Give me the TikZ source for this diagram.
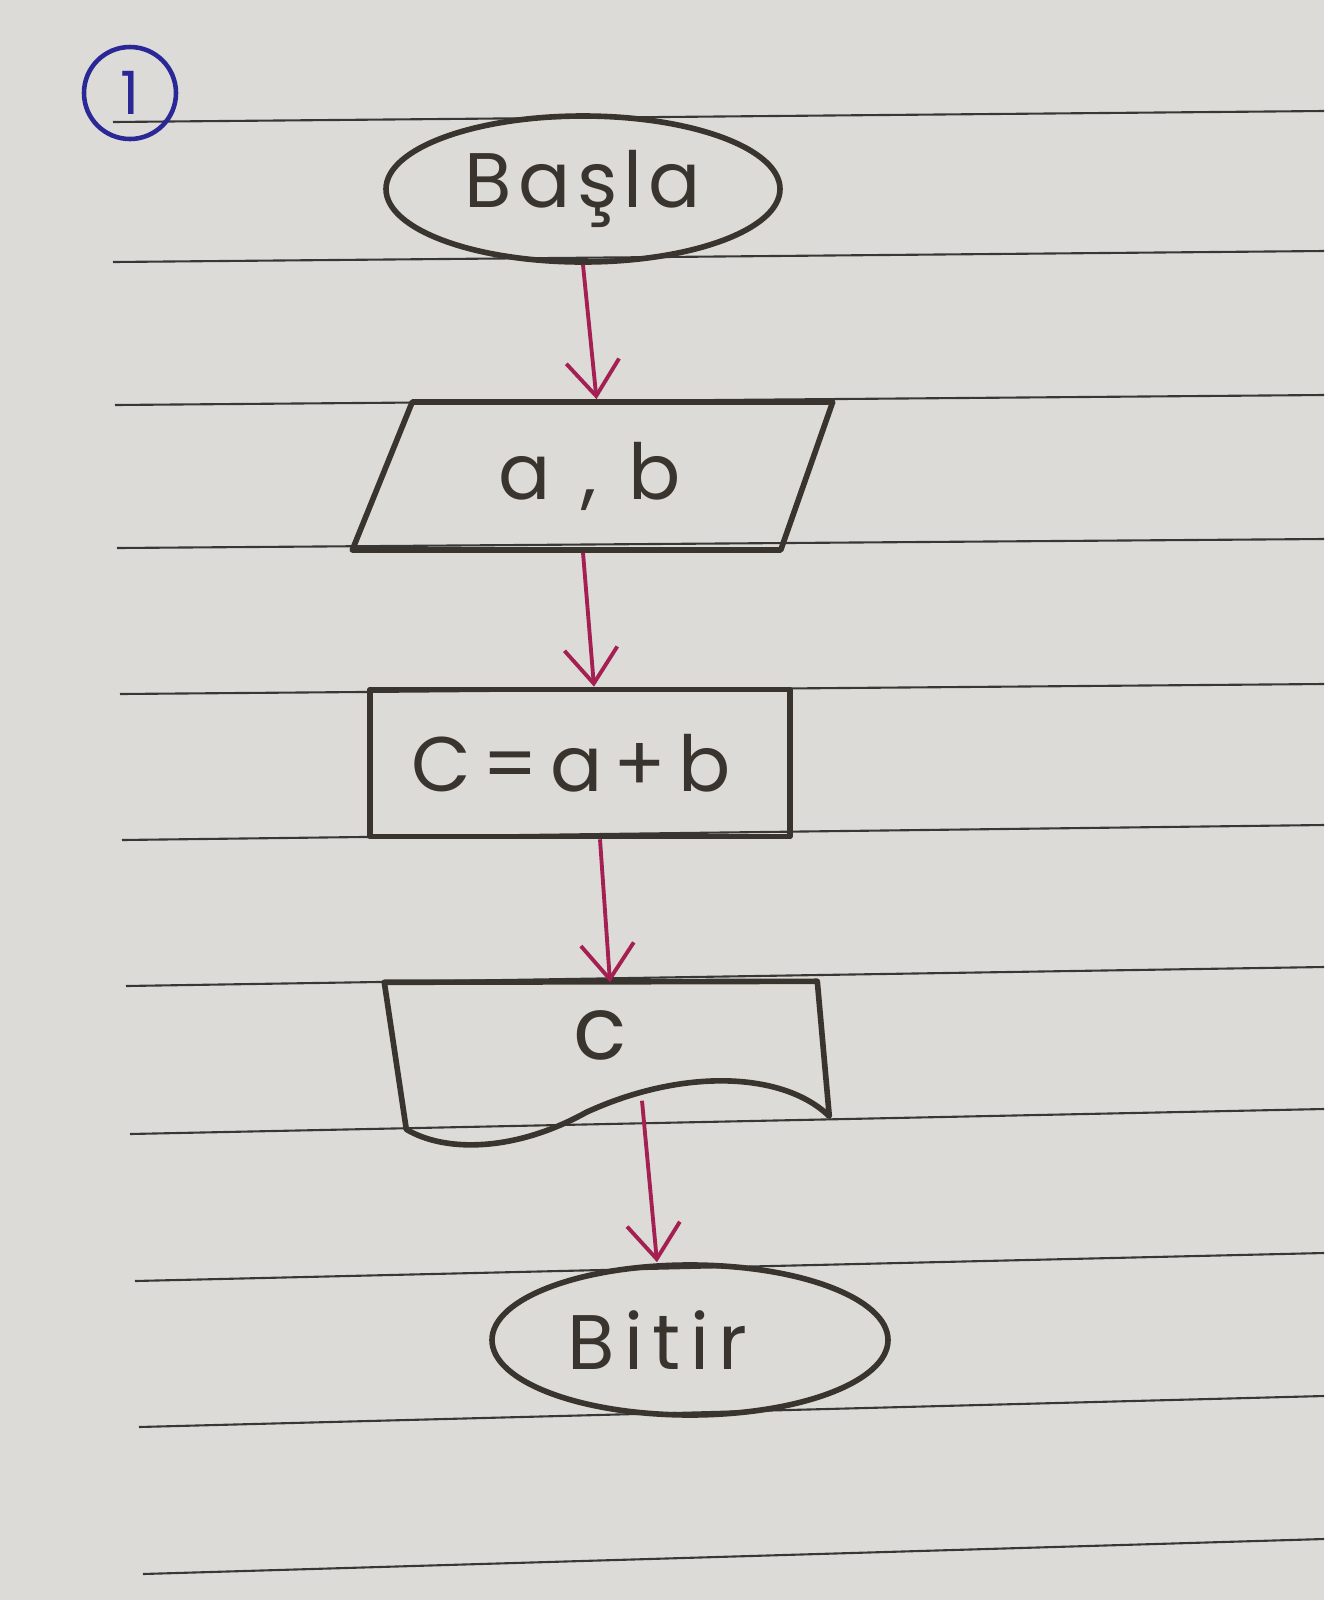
\documentclass[tikz,border=0pt]{standalone}
\usepackage{fontspec}
\usepackage{xcolor}
\usepackage{tikz}
\usetikzlibrary{shapes.geometric, positioning, arrows.meta}
\newfontfamily\hand[LetterSpace=8]{Poppins}
\definecolor{paper}{RGB}{220,219,215}
\definecolor{ink}{RGB}{58,52,46}
\definecolor{pinkink}{RGB}{165,32,82}
\definecolor{blueink}{RGB}{42,40,150}
\definecolor{ruling}{RGB}{55,55,55}
\tikzset{x=0.1mm, y=-0.1mm, node distance=28.7mm, >={Straight Barb[length=3.5mm, width=5.3mm]},
	every node/.style={font=\hand\fontsize{22}{26}\selectfont, text=ink, inner sep=0pt},
	pen/.style={draw=ink, line width=1.6pt, line join=round},
	terminal/.style={ellipse, pen},
	io/.style={trapezium, trapezium left angle=65, trapezium right angle=112, trapezium stretches=true, pen},
	process/.style={rectangle, pen},
	flow/.style={->, draw=pinkink, line width=1.1pt}}

\begin{document}
\begin{tikzpicture}
	\fill[paper] (0,0) rectangle (1324,1600);
	% ruled paper
	\draw[ruling, line width=0.6pt]
		(113,122) -- (1324,111)
		(113,262) -- (1324,251)
		(115,405) -- (1324,395)
		(117,548) -- (1324,539)
		(120,694) -- (1324,684)
		(122,840) -- (1324,825)
		(126,986) -- (1324,967)
		(130,1134) -- (1324,1109)
		(135,1281) -- (1324,1253)
		(139,1427) -- (1324,1396)
		(143,1574) -- (1324,1539);

	\node[circle, draw=blueink, line width=1.3pt, minimum size=9.2mm, text=blueink, font=\hand\fontsize{17}{20}\selectfont] (Nr) at (130,93) {1};

	\node[terminal, minimum width=39.4mm, minimum height=14.6mm] (Basla) at (583,189) {Başla};
	\node[io, minimum width=48.3mm, minimum height=14.8mm, below of=Basla, xshift=1.35mm, font=\hand\fontsize{22}{26}\selectfont\addfontfeature{LetterSpace=40}] (Giris) {a,b\hspace*{1.4mm}};
	\node[process, minimum width=42mm, minimum height=14.7mm, below of=Giris, xshift=-1.65mm, font=\hand\fontsize{22}{26}\selectfont\addfontfeature{LetterSpace=15}] (Islem) {C=a+b\hspace*{1.8mm}};
	\node[minimum width=43mm, minimum height=10.4mm, below of=Islem, xshift=2mm, yshift=1.5mm, font=\hand\fontsize{25}{28}\selectfont] (Cikti) {c};
	\begin{scope}[shift={(Cikti.north west)}]
		\draw[pen] (22,147) -- (0,0) -- (433,-1) -- (445,134) .. controls (400,90) and (300,85) .. (202,130) .. controls (130,170) and (60,170) .. cycle;
	\end{scope}
	\node[terminal, minimum width=39.6mm, minimum height=15mm, below of=Cikti, xshift=9mm, yshift=-1.8mm, font=\hand\fontsize{22}{26}\selectfont\addfontfeature{LetterSpace=12}] (Bitir) {Bitir\hspace*{6.5mm}};

	\draw[flow] (Basla.south) -- (Giris.north);
	\draw[flow] ([xshift=-1.35mm]Giris.south) -- ([xshift=1.4mm]Islem.north);
	\draw[flow] ([xshift=2mm]Islem.south) -- ([xshift=1mm]Cikti.north);
	\draw[flow] ([shift={(42,13)}]Cikti.south) -- ([xshift=-3.3mm]Bitir.north);
\end{tikzpicture}
\end{document}
